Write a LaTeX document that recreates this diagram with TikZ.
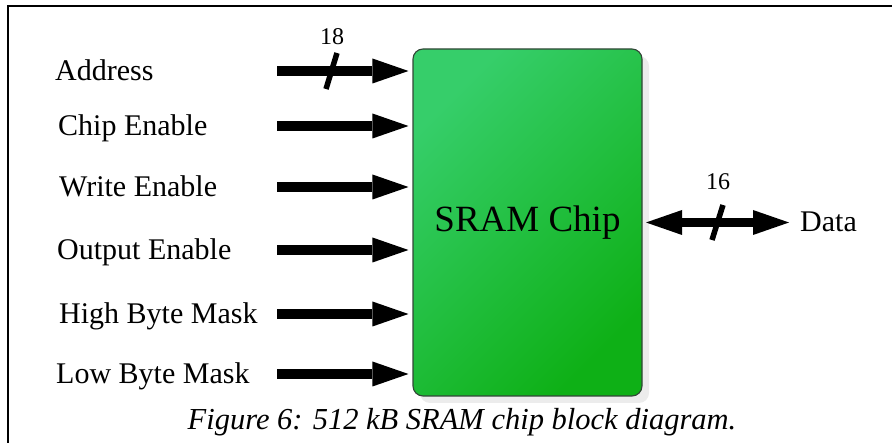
\documentclass[tikz,border=0pt]{standalone}
\usepackage{fontspec}
\setmainfont{Liberation Serif}
\usetikzlibrary{arrows.meta,shadows}

\definecolor{chiplight}{RGB}{54,206,106}
\definecolor{chipdark}{RGB}{14,176,22}
\definecolor{chipedge}{RGB}{50,70,55}
\definecolor{shadowgray}{RGB}{236,236,236}

\begin{document}
\begin{tikzpicture}[x=1pt,y=-1pt,
  sig/.style={font=\fontsize{30}{36}\selectfont, anchor=base west, inner sep=0pt},
  width/.style={font=\fontsize{24}{28}\selectfont, inner sep=0pt},
  bigtip/.tip={Triangle[length=36pt,width=25pt,line width=0pt]},
  bus/.style={line width=10pt, -{bigtip}, shorten >=4pt},
  bibus/.style={line width=9pt, {bigtip}-{bigtip}, shorten <=3.5pt},
  slash/.style={line width=5.5pt},
  chipbox/.style={draw=chipedge, line width=1.1pt, rounded corners=10pt,
    minimum width=229pt, minimum height=347pt, inner sep=0pt,
    top color=chiplight, bottom color=chipdark, shading angle=45,
    font=\fontsize{37}{42}\selectfont,
    drop shadow={shadow xshift=7pt, shadow yshift=-7pt, fill=shadowgray, opacity=1},
    path picture={
      \foreach \c in {460,464,...,1044}
        \draw[white, opacity=0.2, line width=0.7pt] (\c-450,450) -- (\c,0);
    }},
]
\useasboundingbox (0,0) rectangle (892,443);

% frame
\draw[line width=1.5pt] (8,443) -- (8,6) -- (892,6);

% the chip
\node[chipbox] (chip) at (527.5,222.5) {SRAM Chip};

% input signals
\foreach \name/\txt/\lx/\y in {
    addr/Address/55/71,
    ce/Chip Enable/58/126,
    we/Write Enable/59/187,
    oe/Output Enable/57/250,
    hbm/High Byte Mask/59/314,
    lbm/Low Byte Mask/56/374}{
  \node[sig] (\name-label) at (\lx,\y+9.5) {\txt};
  \coordinate (\name-src) at (277,\y);
  \draw[bus] (\name-src) -- (\name-src -| chip.west);
}

% address bus width
\draw[slash] (331.5,71) ++(5.5,-18) -- ++(-11,36);
\node[width] (addr-width) at (332,37) {18};

% bidirectional data bus
\coordinate (data-end) at (789,222.5);
\node[sig] (data-label) at (800,232) {Data};
\draw[bibus] (data-end -| chip.east) -- (data-end);
\draw[slash] (717.5,222.5) ++(5.5,-17.5) -- ++(-11,35);
\node[width] (data-width) at (718,182) {16};

% caption
\node[font=\fontsize{30.5}{36}\selectfont\itshape, anchor=base, inner sep=0pt]
  (caption) at (462,430) {Figure 6: 512 kB SRAM chip block diagram.};
\end{tikzpicture}
\end{document}
